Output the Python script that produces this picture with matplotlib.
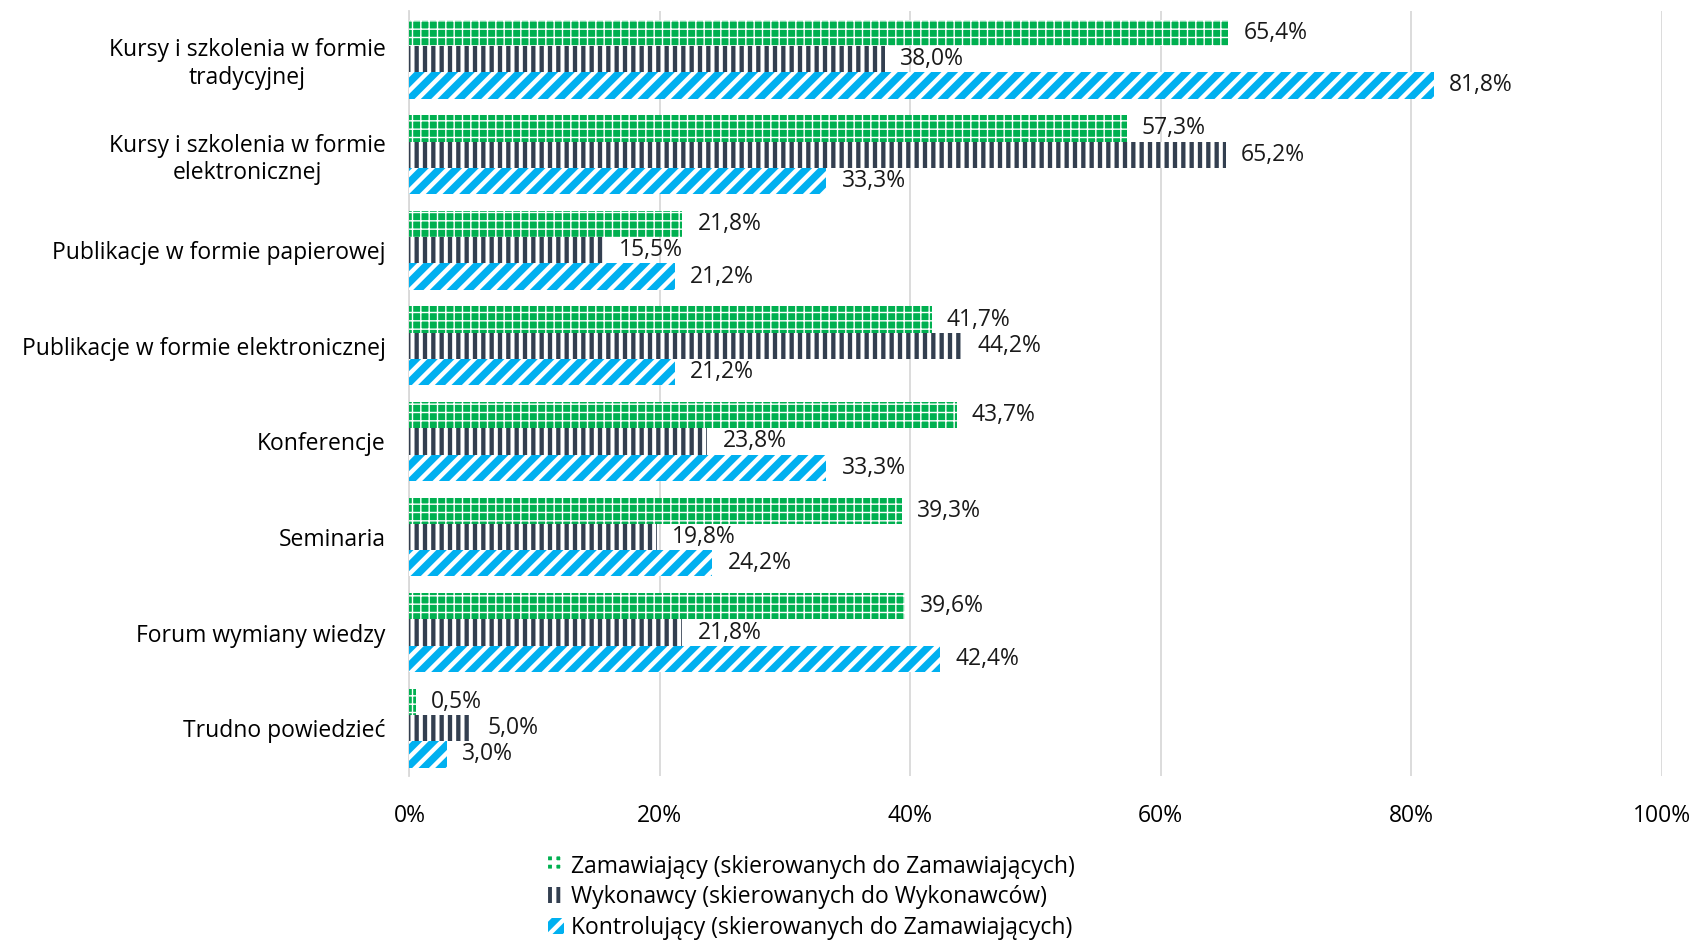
import matplotlib
matplotlib.use("Agg")
from matplotlib import pyplot as plt
import numpy as np

categories = [
    "Kursy i szkolenia w formie\ntradycyjnej",
    "Kursy i szkolenia w formie\nelektronicznej",
    "Publikacje w formie papierowej",
    "Publikacje w formie elektronicznej",
    "Konferencje",
    "Seminaria",
    "Forum wymiany wiedzy",
    "Trudno powiedzieć",
]
zamawiajacy = [65.4, 57.3, 21.8, 41.7, 43.7, 39.3, 39.6, 0.5]
wykonawcy = [38.0, 65.2, 15.5, 44.2, 23.8, 19.8, 21.8, 5.0]
kontrolujacy = [81.8, 33.3, 21.2, 21.2, 33.3, 24.2, 42.4, 3.0]
series_names = [
    "Zamawiający (skierowanych do Zamawiających)",
    "Wykonawcy (skierowanych do Wykonawców)",
    "Kontrolujący (skierowanych do Zamawiających)",
]

plt.rcParams["font.family"] = ["Open Sans", "DejaVu Sans"]
fs = 16.5

fig = plt.figure(figsize=(16.94, 9.40), dpi=100)
ax = fig.add_axes([0.2417, 0.1745, 0.7392, 0.8135])

y = np.arange(len(categories))
w = 0.275
styles = [
    ("#00B050", "++", 1.0),
    ("#333F50", "||", 2.9),
    ("#00B0F0", "//", 3.2),
]
all_vals = [zamawiajacy, wykonawcy, kontrolujacy]
for k, (vals, (col, hatch, hlw)) in enumerate(zip(all_vals, styles)):
    plt.rcParams["hatch.linewidth"] = hlw
    pos = y + (k - 1) * w
    ax.barh(pos, vals, height=w, color=col, edgecolor="white", hatch=hatch,
            linewidth=0, label=series_names[k], zorder=3)
    for p, v in zip(pos, vals):
        ax.text(v + 1.2, p, f"{v:.1f}%".replace(".", ","), va="center",
                ha="left", fontsize=fs, color="#1a1a1a", zorder=4)

ax.set_xlim(0, 100)
ax.set_ylim(len(categories) - 0.5, -0.5)
ax.set_xticks(range(0, 101, 20))
ax.set_xticklabels([f"{t}%" for t in range(0, 101, 20)], fontsize=fs)
ax.set_yticks(y)
ax.set_yticklabels(categories, fontsize=fs, ha="right", multialignment="center")
ax.tick_params(axis="y", length=0, pad=17)
ax.tick_params(axis="x", length=0, pad=20)
ax.grid(axis="x", color="#d9d9d9", linewidth=1.3, zorder=0)
for s in ["top", "right", "bottom"]:
    ax.spines[s].set_visible(False)
ax.spines["left"].set_color("#d9d9d9")
ax.spines["left"].set_linewidth(1.3)

fig.legend(loc="upper center", bbox_to_anchor=(0.479, 0.108), frameon=False,
           fontsize=fs, ncol=1, handlelength=0.7, handleheight=0.7,
           handletextpad=0.3, labelspacing=0.3, borderpad=0.2)

fig.savefig("out.png", dpi=100)
